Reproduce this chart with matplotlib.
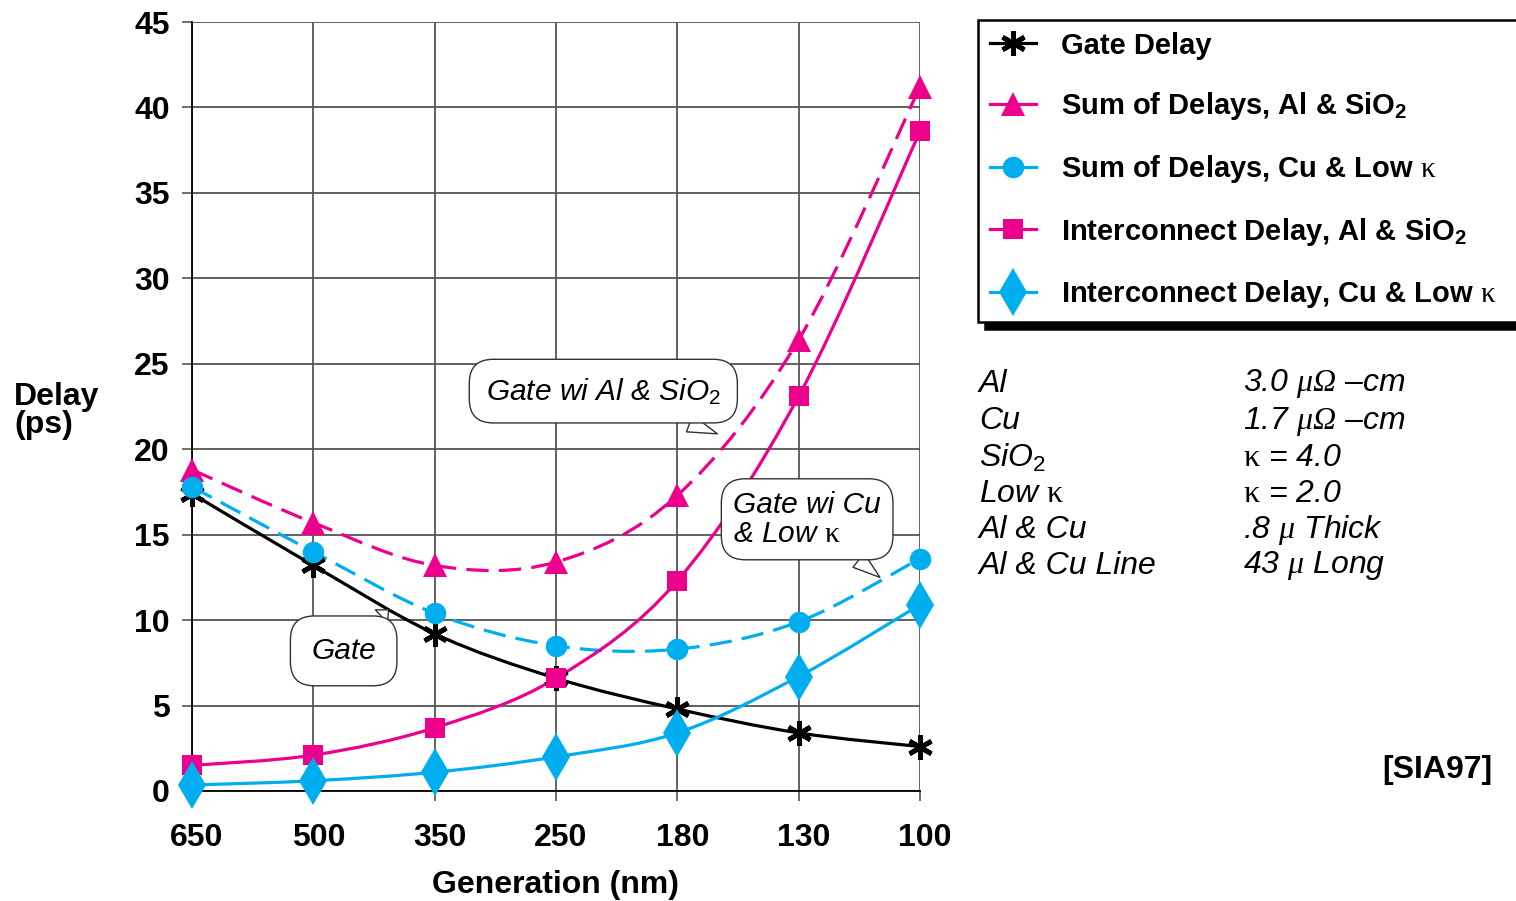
import numpy as np
import matplotlib
matplotlib.use('Agg')
import matplotlib.pyplot as plt
import matplotlib.transforms as mtrans
from matplotlib.path import Path
from matplotlib.patches import PathPatch
from matplotlib.lines import Line2D

# ── Data ──────────────────────────────────────────────────────
generations = ['650', '500', '350', '250', '180', '130', '100']
gate_delay   = [17.4, 13.2, 9.2, 6.6, 4.8, 3.4, 2.6]
sum_al_sio2  = [18.8, 15.7, 13.2, 13.4, 17.3, 26.4, 41.2]
sum_cu_lowk  = [17.8, 14.0, 10.4, 8.5, 8.3, 9.9, 13.6]
int_al_sio2  = [1.5, 2.1, 3.7, 6.6, 12.3, 23.1, 38.6]
int_cu_lowk  = [0.35, 0.6, 1.1, 2.0, 3.4, 6.7, 10.9]

table_left  = ['Al', 'Cu', r'SiO$_\mathit{2}$', r'Low $\mathsf{κ}$', 'Al & Cu', 'Al & Cu Line']
table_right = [r'3.0 $\mathcal{μΩ}$ –cm', r'1.7 $\mathcal{μΩ}$ –cm', r'$\mathsf{κ}$ = 4.0',
               r'$\mathsf{κ}$ = 2.0', r'.8 $\mathcal{μ}$ Thick', r'43 $\mathcal{μ}$ Long']

MAGENTA = '#EC008C'
CYAN    = '#00AEEF'
BLACK   = '#000000'

plt.rcParams['font.family'] = ['Liberation Sans', 'DejaVu Sans']
plt.rcParams['mathtext.fontset'] = 'custom'
plt.rcParams['mathtext.rm'] = 'Liberation Sans'
plt.rcParams['mathtext.bf'] = 'Liberation Sans:bold'
plt.rcParams['mathtext.it'] = 'Liberation Sans:italic'
plt.rcParams['mathtext.sf'] = 'Liberation Serif'
plt.rcParams['mathtext.cal'] = 'Liberation Serif:italic'


def smooth_path(xs, ys):
    # Excel-style smoothed line: Catmull-Rom through the points as cubic Beziers
    pts = np.column_stack([xs, ys]).astype(float)
    n = len(pts)
    verts, codes = [pts[0]], [Path.MOVETO]
    for i in range(n - 1):
        p0 = pts[i - 1] if i > 0 else pts[i]
        p1, p2 = pts[i], pts[i + 1]
        p3 = pts[i + 2] if i + 2 < n else pts[i + 1]
        verts += [p1 + (p2 - p0) / 6, p2 - (p3 - p1) / 6, p2]
        codes += [Path.CURVE4] * 3
    return Path(verts, codes)


fig = plt.figure(figsize=(15.16, 9.01), dpi=100)
ax = fig.add_axes([192 / 1516, 1 - 791 / 901, 728 / 1516, 769 / 901])

x = np.arange(len(generations))

series = [
    (gate_delay,  BLACK,   '-',          dict(marker=(6, 2, 0), ms=18, mew=3.4), 'Gate Delay'),
    (sum_al_sio2, MAGENTA, (0, (7, 3.2)), dict(marker='^', ms=17, mew=0), r'Sum of Delays, Al & SiO$_\mathbf{2}$'),
    (sum_cu_lowk, CYAN,    (0, (7, 3.2)), dict(marker='o', ms=15.5, mew=0), r'Sum of Delays, Cu & Low $\mathsf{κ}$'),
    (int_al_sio2, MAGENTA, '-',          dict(marker='s', ms=14, mew=0), r'Interconnect Delay, Al & SiO$_\mathbf{2}$'),
    (int_cu_lowk, CYAN,    '-',          dict(marker='d', ms=24, mew=0), r'Interconnect Delay, Cu & Low $\mathsf{κ}$'),
]

handles = []
for ys, color, ls, mk, label in series:
    patch = PathPatch(smooth_path(x, ys), fill=False, edgecolor=color, lw=2.3,
                      linestyle=ls, capstyle='butt', zorder=3)
    ax.add_patch(patch)
    ax.plot(x, ys, linestyle='none', color=color, mec=color, mfc=color,
            clip_on=False, zorder=4, **mk)
    handles.append(Line2D([], [], color=color, lw=2.3, mec=color, mfc=color, **mk))

ax.set_xlim(0, 6)
ax.set_ylim(0, 45)
ax.set_xticks(x)
ax.set_xticklabels(generations)
ax.set_yticks(np.arange(0, 46, 5))
ax.grid(True, color='#555555', lw=1.3)
ax.set_axisbelow(True)
for s in ['top', 'right']:
    ax.spines[s].set_visible(False)
for s in ['left', 'bottom']:
    ax.spines[s].set_color('black')
    ax.spines[s].set_linewidth(1.3)
ax.tick_params(axis='both', direction='out', length=7, width=1.2, colors='#555555',
               labelcolor='black', labelsize=23)
ax.tick_params(axis='y', pad=9)
ax.tick_params(axis='x', pad=16)
shift = mtrans.ScaledTranslation(5 / 100, 0, fig.dpi_scale_trans)
for lab in ax.get_xticklabels():
    lab.set_fontweight('bold')
    lab.set_transform(lab.get_transform() + shift)
for lab in ax.get_yticklabels():
    lab.set_fontweight('bold')

ax.set_xlabel('Generation (nm)', fontsize=23, fontweight='bold', labelpad=12)
fig.text(14 / 1516, 1 - 411 / 901, 'Delay\n(ps)', fontsize=23, fontweight='bold',
         ha='left', va='center', linespacing=0.95)

# ── Callouts ──────────────────────────────────────────────────
bub = dict(boxstyle='round,pad=0.55,rounding_size=0.8', fc='white', ec='#333333', lw=1.0)
arr = dict(arrowstyle='wedge,tail_width=0.6,shrink_factor=0.5', fc='white', ec='#333333',
           lw=1.0, shrinkA=0, shrinkB=0)
ax.annotate(r'Gate wi Al & SiO$_\mathit{2}$', xy=(4.33, 20.9), xytext=(3.39, 23.4),
            fontsize=21.5, fontstyle='italic', ha='center', va='center',
            bbox=dict(bub, boxstyle='round,pad=0.55,rounding_size=0.8'), arrowprops=arr, zorder=6)
ax.annotate('Gate wi Cu\n' + r'& Low $\mathsf{κ}$', xy=(5.67, 12.5), xytext=(5.07, 15.9),
            fontsize=21.5, fontstyle='italic', ha='center', va='center', multialignment='left',
            bbox=dict(bub, boxstyle='round,pad=0.4,rounding_size=0.8'), arrowprops=arr,
            zorder=6, linespacing=1.05)
ax.annotate('Gate', xy=(1.62, 10.6), xytext=(1.25, 8.2),
            fontsize=21.5, fontstyle='italic', ha='center', va='center',
            bbox=dict(bub, boxstyle='round,pad=0.7,rounding_size=0.8'), arrowprops=arr,
            zorder=6)

# ── Legend ────────────────────────────────────────────────────
leg = fig.legend(handles=handles, labels=[s[4] for s in series],
                 loc='upper left', bbox_to_anchor=(978 / 1516, 1 - 20 / 901, 580 / 1516, 0.0),
                 mode='expand', borderaxespad=0, prop={'weight': 'bold', 'size': 21},
                 handlelength=1.6, handletextpad=0.85, labelspacing=1.05,
                 borderpad=0.4, fancybox=False, framealpha=1,
                 shadow={'ox': 5, 'oy': -5, 'facecolor': 'black', 'edgecolor': 'black', 'alpha': 1})
leg.get_frame().set_edgecolor('black')
leg.get_frame().set_linewidth(1.8)

# ── Material table ────────────────────────────────────────────
row_y = [384, 421, 458, 494, 530, 566]
for yy, lt, rt in zip(row_y, table_left, table_right):
    fig.text(979 / 1516, 1 - yy / 901, lt, fontsize=23, fontstyle='italic', ha='left', va='center')
    fig.text(1243 / 1516, 1 - yy / 901, rt, fontsize=23, fontstyle='italic', ha='left', va='center')

fig.text(1492 / 1516, 1 - 770 / 901, '[SIA97]', fontsize=23, fontweight='bold',
         ha='right', va='center')

fig.savefig('out.png', dpi=100)
